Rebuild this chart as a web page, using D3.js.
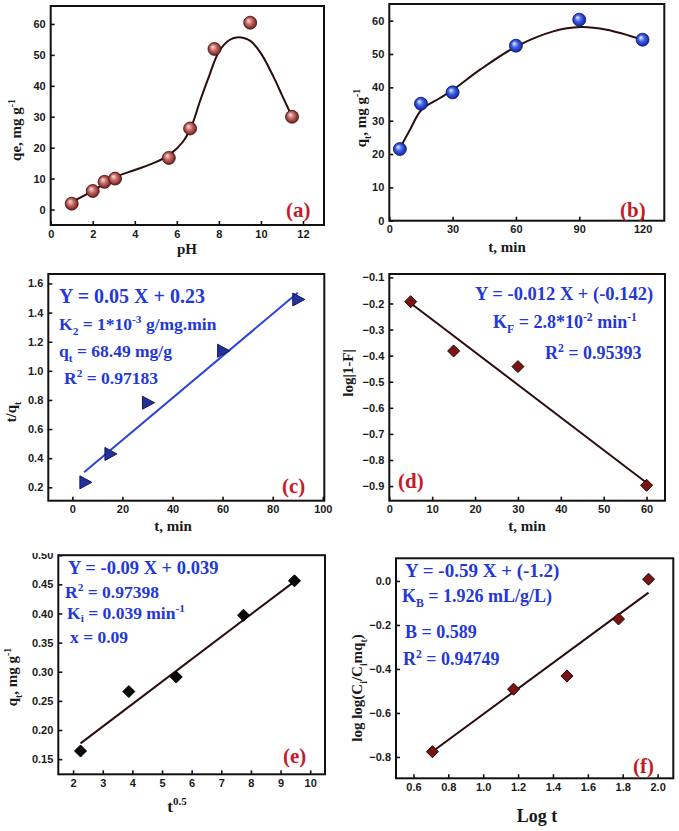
<!DOCTYPE html>
<html><head><meta charset="utf-8">
<script src="https://cdn.jsdelivr.net/npm/d3@7"></script>
<style>body{margin:0;background:#fff}svg{display:block}</style>
</head><body>
<script>
// ---------- DATA ----------
// (a) effect of pH
const phA = [1, 2, 2.56, 3.06, 5.62, 6.63, 7.79, 9.49, 11.48];
const qeA = [1.9, 6.0, 8.95, 10.0, 16.7, 26.2, 51.9, 60.4, 30.0];
const fitPhA = [1, 2, 3, 4, 5, 5.7, 6.3, 6.7, 7.1, 7.5, 8, 8.5, 8.93, 9.5, 10, 10.6, 11, 11.48];
const fitQeA = [2.4, 6.0, 10.3, 12.8, 15.3, 18.0, 22.0, 27.0, 35.0, 42.5, 51.0, 54.8, 55.7, 54.5, 50.5, 42.9, 37.0, 30.0];
const ticksXA = [0, 2, 4, 6, 8, 10, 12];
const ticksYA = [0, 10, 20, 30, 40, 50, 60];
// (b) effect of contact time
const tB = [5, 15, 30, 60, 90, 120];
const qtB = [21.5, 35.1, 38.5, 52.5, 60.3, 54.3];
const fitTB = [5, 9.8, 15.3, 24, 30.3, 43, 60.3, 77.7, 90.4, 103, 120];
const fitQtB = [21.7, 27.3, 33.3, 36.8, 39.3, 45.3, 52.3, 56.8, 58.1, 57.3, 54.3];
const ticksXB = [0, 30, 60, 90, 120];
const ticksYB = [0, 10, 20, 30, 40, 50, 60];
// (c) pseudo-second order
const tC = [5, 15, 30, 60, 90];
const yC = [0.234, 0.429, 0.781, 1.138, 1.49];
const fitXC = [4.7, 90];
const fitYC = [0.303, 1.536];
const ticksXC = [0, 20, 40, 60, 80, 100];
const ticksYC = [0.2, 0.4, 0.6, 0.8, 1.0, 1.2, 1.4, 1.6];
// (d) film diffusion
const tD = [5, 15, 30, 60];
const yD = [-0.193, -0.382, -0.442, -0.897];
const fitXD = [5, 60];
const fitYD = [-0.199, -0.887];
const ticksXD = [0, 10, 20, 30, 40, 50, 60];
const ticksYD = [-0.9, -0.8, -0.7, -0.6, -0.5, -0.4, -0.3, -0.2, -0.1];
// (e) intraparticle diffusion
const xE = [2.25, 3.88, 5.48, 7.75, 9.47];
const yE = [0.164, 0.266, 0.291, 0.397, 0.456];
const fitXE = [2.25, 9.42];
const fitYE = [0.177, 0.453];
const ticksXE = [2, 3, 4, 5, 6, 7, 8, 9, 10];
const ticksYE = [0.15, 0.20, 0.25, 0.30, 0.35, 0.40, 0.45, 0.50];
// (f) Bangham
const xF = [0.709, 1.174, 1.48, 1.776, 1.948];
const yF = [-0.776, -0.492, -0.432, -0.173, 0.008];
const fitXF = [0.696, 1.948];
const fitYF = [-0.783, -0.053];
const ticksXF = [0.6, 0.8, 1.0, 1.2, 1.4, 1.6, 1.8, 2.0];
const ticksYF = [-0.8, -0.6, -0.4, -0.2, 0.0];

// ---------- STYLE ----------
const SERIF = "'Liberation Serif','Times New Roman',serif";
const SANS = "'Liberation Sans',Arial,sans-serif";
const BLUE = "#2438d8";
const RED = "#c41a2a";
const LINE = "#2a0d0d";
const TITLE = 15;

const svg = d3.select("body").append("svg").attr("width", 679).attr("height", 831);
const defs = svg.append("defs");
function sphereGrad(id, hi, mid, edge) {
  const g = defs.append("radialGradient").attr("id", id)
    .attr("cx", "50%").attr("cy", "50%").attr("r", "55%").attr("fx", "35%").attr("fy", "32%");
  g.append("stop").attr("offset", "0%").attr("stop-color", hi);
  g.append("stop").attr("offset", "45%").attr("stop-color", mid);
  g.append("stop").attr("offset", "100%").attr("stop-color", edge);
}
sphereGrad("sRed", "#fbe3e3", "#c86a66", "#5a1414");
sphereGrad("sBlue", "#eef2ff", "#3f63f0", "#0c1a8a");

function rich(sel, parts, fs, subShift) {
  let shift = 0;
  const sub = subShift == null ? 0.3 : subShift;
  parts.forEach(p => {
    const s = p[0], t = p[1] || "";
    const target = t === "sub" ? fs * sub : t === "sup" ? -fs * 0.4 : 0;
    sel.append("tspan").attr("dy", target - shift)
      .attr("font-size", t ? fs * 0.65 : fs).text(s);
    shift = target;
  });
}

function panel(cfg) {
  const g = svg.append("g");
  if (cfg.clipTop != null) {
    const id = "clip" + cfg.name;
    defs.append("clipPath").attr("id", id).append("rect")
      .attr("x", 0).attr("y", cfg.clipTop).attr("width", 679).attr("height", 831 - cfg.clipTop);
    g.attr("clip-path", `url(#${id})`);
  }
  const f = cfg.frame;
  const x = d3.scaleLinear().domain(cfg.xDomain).range([f.l, f.r]);
  const y = d3.scaleLinear().domain(cfg.yDomain).range([f.b, f.t]);

  const xa = g.append("g").attr("transform", `translate(0,${f.b})`)
    .call(d3.axisBottom(x).tickValues(cfg.xTicks).tickFormat(d3.format(cfg.xFmt)).tickSizeInner(-4).tickSizeOuter(0).tickPadding(5));
  const ya = g.append("g").attr("transform", `translate(${f.l},0)`)
    .call(d3.axisLeft(y).tickValues(cfg.yTicks).tickFormat(d3.format(cfg.yFmt)).tickSizeInner(-4).tickSizeOuter(0).tickPadding(5));
  [xa, ya].forEach(a => {
    a.select(".domain").remove();
    a.selectAll("line").attr("stroke", "#111").attr("stroke-width", 1.6);
    a.selectAll("text").attr("font-family", SANS).attr("font-weight", "bold")
      .attr("font-size", 11).attr("fill", "#1a1a1a");
  });
  g.append("rect").attr("x", f.l).attr("y", f.t).attr("width", f.r - f.l).attr("height", f.b - f.t)
    .attr("fill", "none").attr("stroke", "#111").attr("stroke-width", 2);

  // fit line / curve
  const fit = d3.zip(cfg.fitX, cfg.fitY);
  const line = d3.line().x(d => x(d[0])).y(d => y(d[1]))
    .curve(cfg.curve ? d3.curveCatmullRom.alpha(0.5) : d3.curveLinear);
  g.append("path").attr("d", line(fit)).attr("fill", "none")
    .attr("stroke", cfg.lineColor || LINE).attr("stroke-width", 2);

  // markers
  const pts = d3.zip(cfg.xs, cfg.ys);
  const m = g.append("g").selectAll("g").data(pts).join("g")
    .attr("transform", d => `translate(${x(d[0])},${y(d[1])})`);
  if (cfg.marker === "sphere") {
    m.append("circle").attr("r", 6.5).attr("fill", `url(#${cfg.grad})`)
      .attr("stroke", cfg.mstroke).attr("stroke-width", 0.8);
  } else if (cfg.marker === "tri") {
    m.append("path").attr("d", "M-5,-6.5L7,0L-5,6.5Z").attr("fill", cfg.mfill)
      .attr("stroke", cfg.mstroke).attr("stroke-width", 1);
  } else {
    m.append("path").attr("d", "M0,-6L6,0L0,6L-6,0Z").attr("fill", cfg.mfill)
      .attr("stroke", cfg.mstroke).attr("stroke-width", 1);
  }

  // axis titles
  const xs = cfg.xTitleSize || TITLE;
  const xt = g.append("text").attr("x", cfg.xTitlePos[0]).attr("y", cfg.xTitlePos[1])
    .attr("text-anchor", "middle").attr("font-family", SERIF).attr("font-weight", "bold")
    .attr("font-size", xs).attr("fill", "#1a1a1a");
  rich(xt, cfg.xTitle, xs);
  const yt = g.append("text")
    .attr("transform", `translate(${cfg.yTitlePos[0]},${cfg.yTitlePos[1]}) rotate(-90)`)
    .attr("text-anchor", "middle").attr("font-family", SERIF).attr("font-weight", "bold")
    .attr("font-size", TITLE).attr("fill", "#1a1a1a");
  rich(yt, cfg.yTitle, TITLE);

  // annotations
  (cfg.notes || []).forEach(n => {
    const t = g.append("text").attr("x", n.x).attr("y", n.y).attr("font-family", SERIF)
      .attr("font-weight", "bold").attr("font-size", n.size).attr("fill", BLUE);
    rich(t, n.parts, n.size, n.sub);
  });
  // panel letter
  g.append("text").attr("x", cfg.letterPos[0]).attr("y", cfg.letterPos[1])
    .attr("font-family", SERIF).attr("font-weight", "bold").attr("font-size", 21)
    .attr("fill", RED).text(cfg.letter);
}

panel({
  name: "a", frame: {l: 50.7, r: 324, t: 6, b: 225},
  xDomain: [0, 13], yDomain: [-5, 65.8], xTicks: ticksXA, yTicks: ticksYA, xFmt: "d", yFmt: "d",
  xs: phA, ys: qeA, fitX: fitPhA, fitY: fitQeA, curve: true,
  marker: "sphere", grad: "sRed", mstroke: "#4a1010",
  xTitle: [["pH"]], xTitlePos: [187, 254],
  yTitle: [["qe, mg g"], ["-1", "sup"]], yTitlePos: [21, 130],
  letter: "(a)", letterPos: [286, 217]
});
panel({
  name: "b", frame: {l: 389.3, r: 664.3, t: 4, b: 220.7},
  xDomain: [0, 130.3], yDomain: [0, 65], xTicks: ticksXB, yTicks: ticksYB, xFmt: "d", yFmt: "d",
  xs: tB, ys: qtB, fitX: fitTB, fitY: fitQtB, curve: true,
  marker: "sphere", grad: "sBlue", mstroke: "#0a1670",
  xTitle: [["t, min"]], xTitlePos: [507, 252],
  yTitle: [["q"], ["t", "sub"], [", mg g"], ["-1", "sup"]], yTitlePos: [366, 118],
  letter: "(b)", letterPos: [620, 217]
});
panel({
  name: "c", frame: {l: 48.3, r: 324.3, t: 274, b: 500.7},
  xDomain: [-9.6, 100.6], yDomain: [0.108, 1.665], xTicks: ticksXC, yTicks: ticksYC, xFmt: "d", yFmt: ".1f",
  xs: tC, ys: yC, fitX: fitXC, fitY: fitYC, lineColor: "#2a44d8",
  marker: "tri", mfill: "#26309a", mstroke: "#141a5a",
  xTitle: [["t, min"]], xTitlePos: [173, 531],
  yTitle: [["t/q"], ["t", "sub"]], yTitlePos: [16, 412],
  notes: [
    {x: 59, y: 303, size: 20, parts: [["Y = 0.05 X + 0.23"]]},
    {x: 59, y: 330, size: 17.5, parts: [["K"], ["2", "sub"], [" = 1*10"], ["-3", "sup"], [" g/mg.min"]]},
    {x: 59, y: 357, size: 17.5, parts: [["q"], ["t", "sub"], [" = 68.49 mg/g"]]},
    {x: 64, y: 384, size: 17.5, parts: [["R"], ["2", "sup"], [" = 0.97183"]]}
  ],
  letter: "(c)", letterPos: [282, 493]
});
panel({
  name: "d", frame: {l: 389.3, r: 665, t: 274, b: 500.7},
  xDomain: [0, 64.3], yDomain: [-0.956, -0.087], xTicks: ticksXD, yTicks: ticksYD, xFmt: "d", yFmt: ".1f",
  xs: tD, ys: yD, fitX: fitXD, fitY: fitYD,
  marker: "diamond", mfill: "#7a1414", mstroke: "#1a0505",
  xTitle: [["t, min"]], xTitlePos: [527, 531],
  yTitle: [["log|1-F|"]], yTitlePos: [353, 373],
  notes: [
    {x: 475, y: 300, size: 18.5, parts: [["Y = -0.012 X + (-0.142)"]]},
    {x: 493, y: 328, size: 18, parts: [["K"], ["F", "sub"], [" = 2.8*10"], ["-2", "sup"], [" min"], ["-1", "sup"]]},
    {x: 545, y: 359, size: 18, parts: [["R"], ["2", "sup"], [" = 0.95393"]]}
  ],
  letter: "(d)", letterPos: [398, 488]
});
panel({
  name: "e", frame: {l: 58.3, r: 325, t: 555.2, b: 774.3}, clipTop: 553,
  xDomain: [1.5, 10.5], yDomain: [0.124, 0.50], xTicks: ticksXE, yTicks: ticksYE, xFmt: "d", yFmt: ".2f",
  xs: xE, ys: yE, fitX: fitXE, fitY: fitYE,
  marker: "diamond", mfill: "#080808", mstroke: "#000",
  xTitle: [["t"], ["0.5", "sup"]], xTitlePos: [177, 812], xTitleSize: 17,
  yTitle: [["q"], ["t", "sub"], [", mg g"], ["-1", "sup"]], yTitlePos: [17, 677],
  notes: [
    {x: 68, y: 574, size: 18.5, parts: [["Y = -0.09 X + 0.039"]]},
    {x: 65, y: 598, size: 17.5, parts: [["R"], ["2", "sup"], [" = 0.97398"]]},
    {x: 67, y: 619, size: 17.5, sub: 0.18, parts: [["K"], ["i", "sub"], [" = 0.039 min"], ["-1", "sup"]]},
    {x: 70, y: 643, size: 17.5, parts: [["x = 0.09"]]}
  ],
  letter: "(e)", letterPos: [283, 763]
});
panel({
  name: "f", frame: {l: 396, r: 673.3, t: 558.3, b: 778.3},
  xDomain: [0.5, 2.09], yDomain: [-0.897, 0.103], xTicks: ticksXF, yTicks: ticksYF, xFmt: ".1f", yFmt: ".1f",
  xs: xF, ys: yF, fitX: fitXF, fitY: fitYF,
  marker: "diamond", mfill: "#7a1414", mstroke: "#1a0505",
  xTitle: [["Log t"]], xTitlePos: [537, 822], xTitleSize: 18,
  yTitle: [["log log(C"], ["i", "sub"], ["/C"], ["i", "sub"], ["mq"], ["t", "sub"], [")"]], yTitlePos: [362, 688],
  notes: [
    {x: 405, y: 577, size: 19, parts: [["Y = -0.59 X + (-1.2)"]]},
    {x: 402, y: 602, size: 18, parts: [["K"], ["B", "sub"], [" = 1.926 mL/g/L)"]]},
    {x: 405, y: 638, size: 18, parts: [["B = 0.589"]]},
    {x: 403, y: 665, size: 18, parts: [["R"], ["2", "sup"], [" = 0.94749"]]}
  ],
  letter: "(f)", letterPos: [633, 773]
});
</script>
</body></html>
